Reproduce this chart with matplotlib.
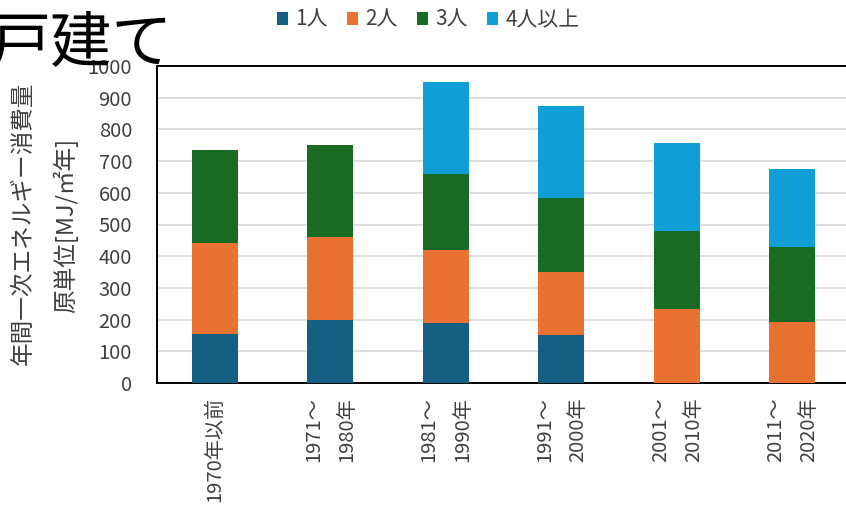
import matplotlib
matplotlib.use("Agg")
import matplotlib.pyplot as plt
from matplotlib.patches import Patch
import numpy as np

plt.rcParams['font.family'] = ['Noto Sans CJK JP', 'DejaVu Sans']

categories = ["1970年以前", "1971～\n1980年", "1981～\n1990年", "1991～\n2000年", "2001～\n2010年", "2011～\n2020年"]
series_names = ["1人", "2人", "3人", "4人以上"]
one = [156, 200, 188, 150, 0, 0]
two = [285, 259, 231, 200, 234, 192]
three = [294, 292, 239, 235, 246, 236]
four = [0, 0, 293, 288, 278, 246]
colors = ["#156082", "#E97132", "#196B24", "#0F9ED5"]
yticks = [0, 100, 200, 300, 400, 500, 600, 700, 800, 900, 1000]

fig = plt.figure(figsize=(8.46, 5.07), dpi=100)
ax = fig.add_axes([157/846, 1-383/507, 693/846, 317/507])

x = np.arange(len(categories))
bottom = np.zeros(len(categories))
for vals, c in zip([one, two, three, four], colors):
    ax.bar(x, vals, 0.4, bottom=bottom, color=c, linewidth=0, zorder=3)
    bottom += np.array(vals)

ax.set_xlim(-0.5, len(categories) - 0.5)
ax.set_ylim(0, 1000)
ax.set_yticks(yticks)
ax.set_yticklabels([str(v) for v in yticks], fontsize=14.5, color="#404040")
ax.yaxis.grid(True, color="#D9D9D9", linewidth=1.2, zorder=0)
ax.set_axisbelow(True)
ax.tick_params(axis='both', length=0)
ax.tick_params(axis='y', pad=18)
ax.set_xticks(x)
ax.set_xticklabels(categories, rotation=90, fontsize=14.5, color="#404040",
                   va='top', ha='center', multialignment='right', linespacing=1.75)
ax.tick_params(axis='x', pad=10)
for s in ['left', 'top', 'bottom']:
    ax.spines[s].set_color('black')
    ax.spines[s].set_linewidth(1.4)
ax.spines['right'].set_visible(False)

fig.text(23/846, 1-223/507, "年間一次エネルギー消費量", rotation=90, fontsize=17,
         color="#404040", ha='center', va='center')
fig.text(65/846, 1-225/507, "原単位[MJ/㎡年]", rotation=90, fontsize=17,
         color="#404040", ha='center', va='center')

fig.text(-0.012, 1-62/507, "戸建て", fontsize=44, color="black", ha='left', va='baseline')

handles = [Patch(facecolor=c, edgecolor='none') for c in colors]
fig.legend(handles, series_names, loc='center', bbox_to_anchor=(428/846, 1-20/507), ncol=4,
           frameon=False, fontsize=15, handlelength=0.55, handleheight=0.55,
           handletextpad=0.35, columnspacing=0.9, labelcolor="#404040")

fig.savefig("out.png", dpi=100)
